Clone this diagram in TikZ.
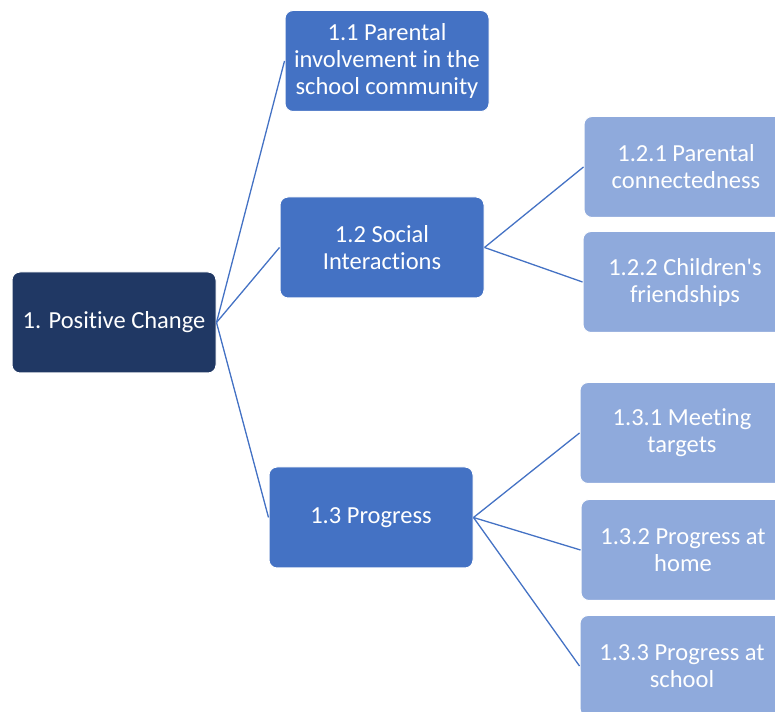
\documentclass[tikz,border=0pt]{standalone}
\usepackage{fontspec}
\setmainfont{Carlito}[Ligatures=NoCommon]
\usepackage{tikz}
\usetikzlibrary{positioning}
\definecolor{rootblue}{HTML}{203864}
\definecolor{midblue}{HTML}{4472C4}
\definecolor{leafblue}{HTML}{8FAADC}
\tikzset{
  box/.style={draw=white,line width=1pt,rounded corners=8pt,text=white,
    minimum width=204pt,minimum height=101pt,align=center,inner sep=0pt,
    font=\fontsize{24.5}{27}\selectfont},
  rootbox/.style={box,fill=rootblue},
  midbox/.style={box,fill=midblue},
  leafbox/.style={box,fill=leafblue},
  link/.style={draw=midblue,line width=1.3pt}
}
\begin{document}
\begin{tikzpicture}[x=1pt,y=1pt]
\useasboundingbox (0,0) rectangle (775,711);
\clip (0,0) rectangle (775,711);
% first level
\node[rootbox] (pc) at (114,388.5) {1. Positive Change};
% second level
\node[midbox] (pi) at (387,650) {1.1 Parental\\involvement in the\\school community};
\node[midbox] (si) at (382,463.5) {1.2 Social\\Interactions};
\node[midbox] (pr) at (371,193.5) {1.3 Progress};
% third level
\node[leafbox] (con) at (686,544) {1.2.1 Parental\\connectedness};
\node[leafbox] (fri) at (685,429) {1.2.2 Children\textquotesingle s\\friendships};
\node[leafbox] (tar) at (682,278) {1.3.1 Meeting\\targets};
\node[leafbox] (hom) at (683,161) {1.3.2 Progress at\\home};
\node[leafbox] (sch) at (682,45) {1.3.3 Progress at\\school};
% links
\foreach \c in {pi,si,pr}
  \draw[link] (pc.east) -- (\c.west);
\foreach \c in {con,fri}
  \draw[link] (si.east) -- (\c.west);
\foreach \c in {tar,hom,sch}
  \draw[link] (pr.east) -- (\c.west);
\end{tikzpicture}
\end{document}
